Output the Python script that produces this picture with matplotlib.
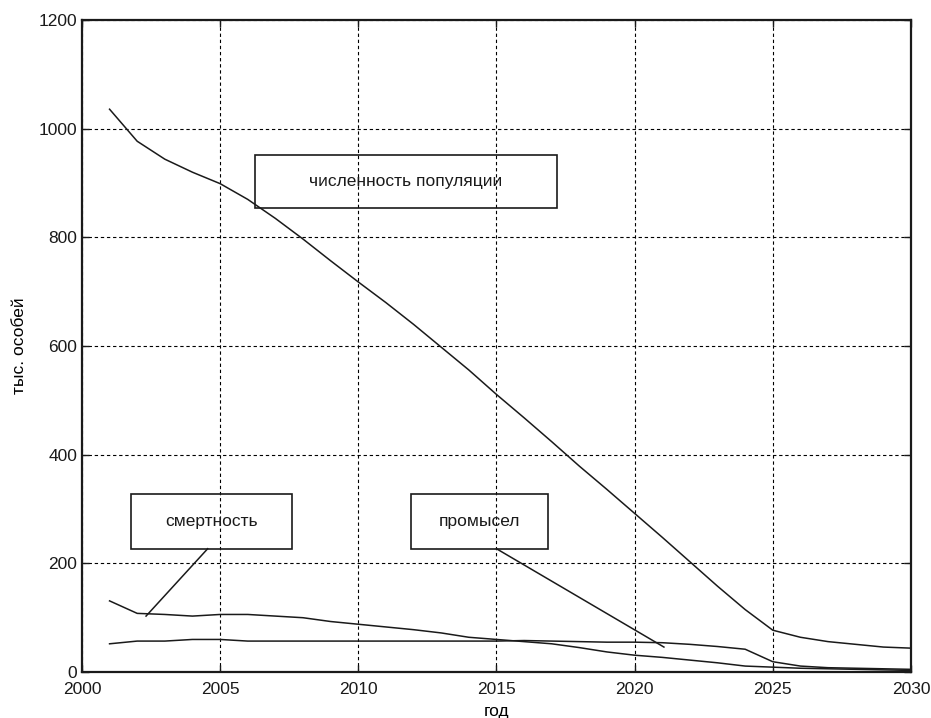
import matplotlib.pyplot as plt
from matplotlib.patches import Rectangle

plt.rcParams['font.family'] = ['Liberation Sans', 'DejaVu Sans']

# Data
years = list(range(2001, 2031))
population = [1036, 977, 944, 920, 899, 870, 835, 797, 757, 718,
              680, 640, 598, 556, 511, 468, 424, 379, 336, 292,
              248, 203, 158, 115, 77, 64, 56, 51, 46, 44]
mortality = [131, 108, 106, 103, 106, 106, 103, 100, 93, 88,
             83, 78, 72, 64, 60, 56, 52, 45, 37, 31,
             27, 22, 17, 11, 9, 7, 6, 5, 4, 3]
catch = [52, 57, 57, 60, 60, 57, 57, 57, 57, 57,
         57, 57, 57, 57, 57, 58, 57, 56, 55, 55,
         54, 51, 47, 42, 19, 11, 8, 7, 6, 5]

x_ticks = [2000, 2005, 2010, 2015, 2020, 2025, 2030]
y_ticks = [0, 200, 400, 600, 800, 1000, 1200]

fig = plt.figure(figsize=(9.31, 7.18), dpi=100)
ax = fig.add_axes([0.088, 0.064, 0.8905, 0.908])

for series in (population, mortality, catch):
    ax.plot(years, series, color='#1a1a1a', linewidth=1.1, zorder=3)

ax.set_xlim(2000, 2030)
ax.set_ylim(0, 1200)
ax.set_xticks(x_ticks)
ax.set_yticks(y_ticks)
ax.grid(True, color='black', linestyle=(0, (3, 2.5)), linewidth=0.8)
ax.tick_params(direction='in', length=5, top=True, right=True,
               labelsize=12.5, colors='#1a1a1a', width=1)
ax.tick_params(axis='x', pad=7.5)
for s in ax.spines.values():
    s.set_linewidth(1.6)
    s.set_color('#1a1a1a')

ax.set_xlabel('год', fontsize=12.5, labelpad=5)
ax.set_ylabel('тыс. особей', fontsize=12.5, labelpad=8)

# Annotation boxes and pointer lines
boxes = [
    ('численность популяции', 2006.26, 855, 10.93, 97, None),
    ('смертность', 2001.76, 227, 5.83, 100, ((2004.55, 227), (2002.32, 103))),
    ('промысел', 2011.89, 227, 4.98, 100, ((2015.0, 227), (2021.06, 46))),
]
for label, x0, y0, w, h, pointer in boxes:
    ax.add_patch(Rectangle((x0, y0), w, h, facecolor='none',
                           edgecolor='#1a1a1a', linewidth=1.2, zorder=3))
    ax.text(x0 + w / 2, y0 + h / 2, label, ha='center', va='center',
            fontsize=12.5, color='#1a1a1a', zorder=4)
    if pointer:
        (xa, ya), (xb, yb) = pointer
        ax.plot([xa, xb], [ya, yb], color='#1a1a1a', linewidth=1.1, zorder=3)

fig.savefig('out.png', dpi=100)
